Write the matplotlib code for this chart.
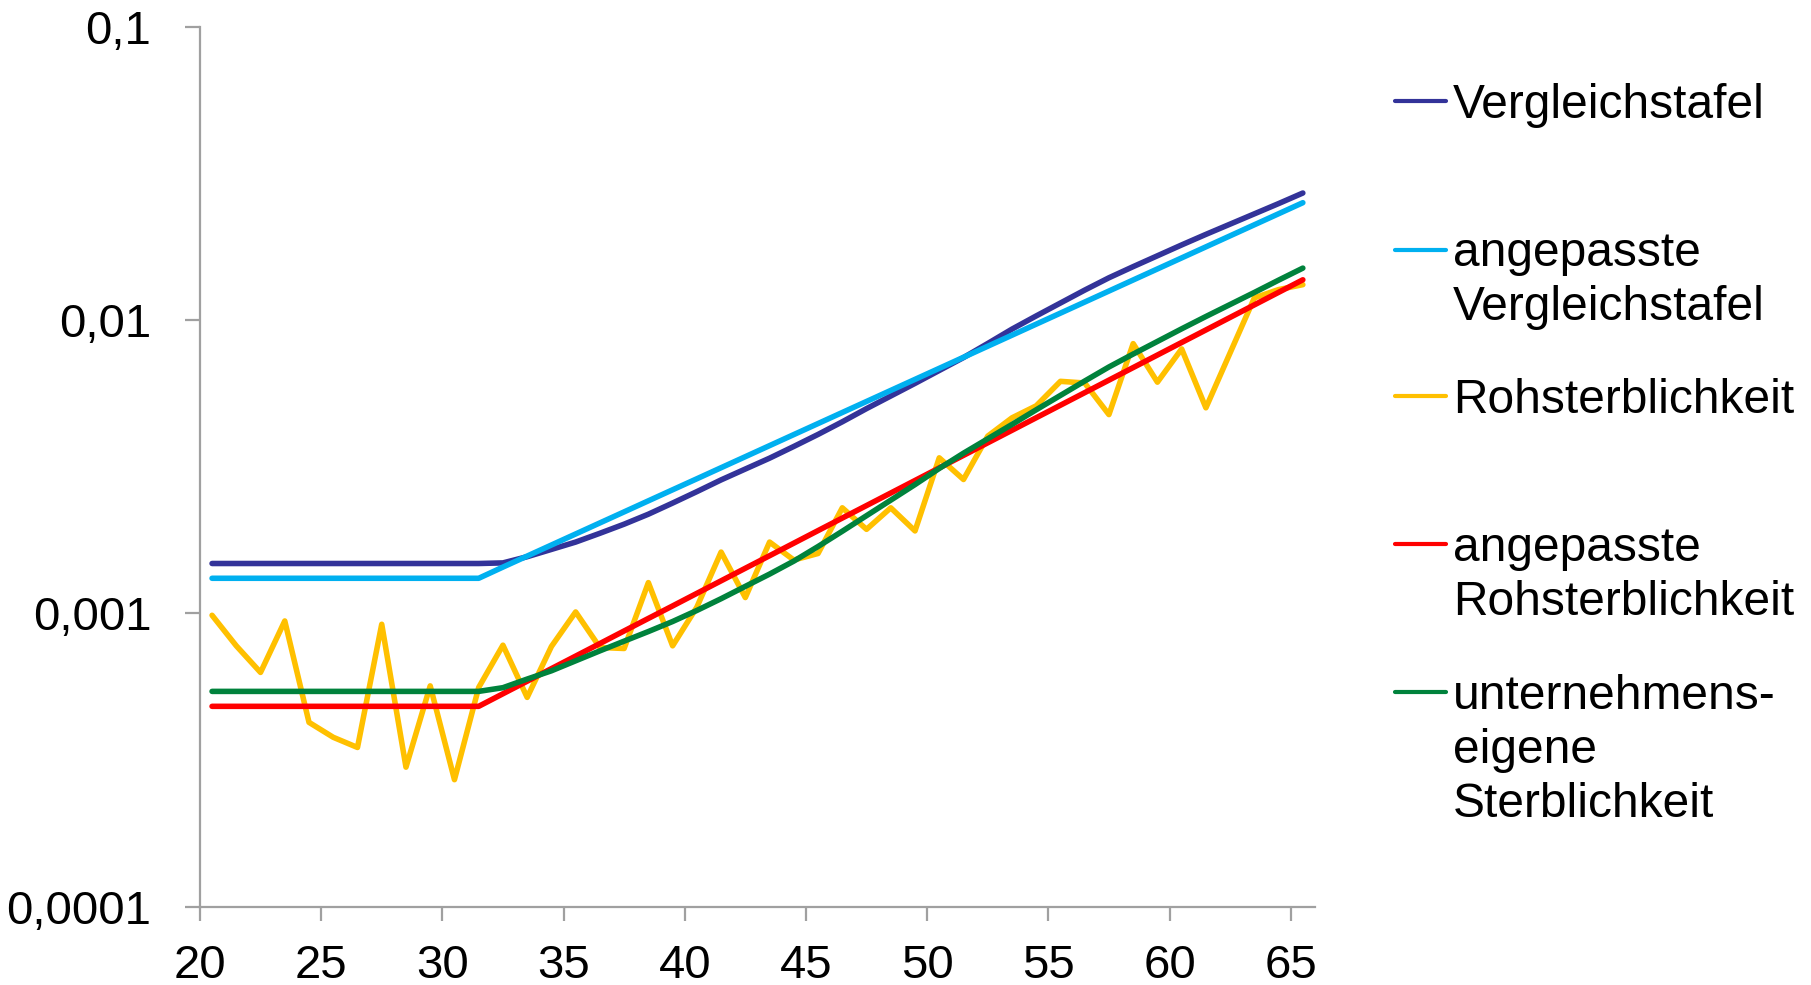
import numpy as np
import matplotlib
matplotlib.use('Agg')
import matplotlib.pyplot as plt
from matplotlib.lines import Line2D

plt.rcParams['font.family'] = ['Liberation Sans', 'DejaVu Sans']

# ages (mid-year) 20.5 .. 65.5
ages = [20.5, 21.5, 22.5, 23.5, 24.5, 25.5, 26.5, 27.5, 28.5, 29.5,
        30.5, 31.5, 32.5, 33.5, 34.5, 35.5, 36.5, 37.5, 38.5, 39.5,
        40.5, 41.5, 42.5, 43.5, 44.5, 45.5, 46.5, 47.5, 48.5, 49.5,
        50.5, 51.5, 52.5, 53.5, 54.5, 55.5, 56.5, 57.5, 58.5, 59.5,
        60.5, 61.5, 62.5, 63.5, 64.5, 65.5]

vergleichstafel = [0.001479, 0.001479, 0.001479, 0.001479, 0.001479, 0.001479,
                   0.001479, 0.001479, 0.001479, 0.001479, 0.001479, 0.001479,
                   0.001486, 0.001560, 0.001652, 0.001750, 0.001875, 0.002014,
                   0.002178, 0.002377, 0.002600, 0.002851, 0.003105, 0.003381,
                   0.003707, 0.004074, 0.004498, 0.004989, 0.005508, 0.006081,
                   0.006730, 0.007447, 0.008318, 0.009311, 0.010328, 0.011429,
                   0.012647, 0.013932, 0.015205, 0.016558, 0.018030, 0.019588,
                   0.021232, 0.023014, 0.024946, 0.027102]

angep_vergleichstafel = [0.001317, 0.001317, 0.001317, 0.001317, 0.001317, 0.001317,
                         0.001317, 0.001317, 0.001317, 0.001317, 0.001317, 0.001317,
                         0.001438, 0.001568, 0.001710, 0.001865, 0.002034, 0.002218,
                         0.002419, 0.002638, 0.002876, 0.003137, 0.003421, 0.003731,
                         0.004069, 0.004437, 0.004839, 0.005277, 0.005755, 0.006276,
                         0.006844, 0.007464, 0.008140, 0.008877, 0.009681, 0.010557,
                         0.011513, 0.012556, 0.013693, 0.014932, 0.016284, 0.017759,
                         0.019367, 0.021121, 0.023033, 0.025119]

rohsterblichkeit = [0.000985, 0.000775, 0.000629, 0.000942, 0.000425, 0.000378,
                    0.000349, 0.000918, 0.000299, 0.000566, 0.000271, 0.000559,
                    0.000779, 0.000517, 0.000771, 0.001011, 0.000765, 0.000759,
                    0.001273, 0.000775, 0.001050, 0.001618, 0.001132, 0.001750,
                    0.001520, 0.001600, 0.002290, 0.001934, 0.002290, 0.001910,
                    0.003390, 0.002860, 0.004020, 0.004640, 0.005100, 0.006180,
                    0.006100, 0.004760, 0.008310, 0.006140, 0.007970, 0.005020,
                    0.007730, 0.011900, 0.012700, 0.013200]

angep_rohsterblichkeit = [0.000482, 0.000482, 0.000482, 0.000482, 0.000482, 0.000482,
                          0.000482, 0.000482, 0.000482, 0.000482, 0.000482, 0.000482,
                          0.000532, 0.000587, 0.000648, 0.000715, 0.000789, 0.000871,
                          0.000961, 0.001060, 0.001170, 0.001291, 0.001425, 0.001572,
                          0.001735, 0.001915, 0.002113, 0.002331, 0.002572, 0.002838,
                          0.003132, 0.003456, 0.003814, 0.004208, 0.004644, 0.005124,
                          0.005654, 0.006239, 0.006885, 0.007597, 0.008383, 0.009250,
                          0.010207, 0.011263, 0.012428, 0.013714]

unternehmenseigen = [0.000542, 0.000542, 0.000542, 0.000542, 0.000542, 0.000542,
                     0.000542, 0.000542, 0.000542, 0.000542, 0.000542, 0.000542,
                     0.000558, 0.000597, 0.000637, 0.000689, 0.000745, 0.000804,
                     0.000867, 0.000938, 0.001023, 0.001122, 0.001236, 0.001361,
                     0.001507, 0.001690, 0.001905, 0.002153, 0.002432, 0.002748,
                     0.003119, 0.003516, 0.003936, 0.004406, 0.004943, 0.005534,
                     0.006194, 0.006918, 0.007656, 0.008453, 0.009333, 0.010280,
                     0.011298, 0.012417, 0.013677, 0.015031]

series = [
    (["Vergleichstafel"], vergleichstafel, "#333399"),
    (["angepasste", "Vergleichstafel"], angep_vergleichstafel, "#00B0F0"),
    (["Rohsterblichkeit"], rohsterblichkeit, "#FFC000"),
    (["angepasste", "Rohsterblichkeit"], angep_rohsterblichkeit, "#FF0000"),
    (["unternehmens-", "eigene", "Sterblichkeit"], unternehmenseigen, "#00823C"),
]

xticks = [20, 25, 30, 35, 40, 45, 50, 55, 60, 65]
yticks = [0.0001, 0.001, 0.01, 0.1]
ytick_labels = ["0,0001", "0,001", "0,01", "0,1"]

fig = plt.figure(figsize=(18.11, 9.85), dpi=100)
ax = fig.add_axes([0.1104, 0.0795, 0.6157, 0.8934])

for label, vals, col in series:
    ax.plot(ages, vals, color=col, lw=4, solid_capstyle='round', solid_joinstyle='round')

ax.set_yscale('log')
ax.set_ylim(0.0001, 0.1)
ax.set_xlim(20, 66)
ax.set_xticks(xticks)
ax.set_xticklabels([str(t) for t in xticks])
ax.set_yticks(yticks)
ax.set_yticklabels(ytick_labels)
ax.minorticks_off()

for s in ['top', 'right']:
    ax.spines[s].set_visible(False)
for s in ['left', 'bottom']:
    ax.spines[s].set_color('#A0A0A0')
    ax.spines[s].set_linewidth(1.6)
ax.tick_params(axis='both', colors='#A0A0A0', width=1.6, labelcolor='black', labelsize=34)
ax.tick_params(axis='y', length=11, pad=24)
ax.tick_params(axis='x', length=10, pad=17)

# legend drawn by hand, Excel style (handle next to first line of label)
handle_y = [100.5, 249.5, 396, 544, 692]
W, H = 1811.0, 985.0
for (lines, vals, col), hy in zip(series, handle_y):
    yf = 1 - hy / H
    fig.add_artist(Line2D([1395 / W, 1446 / W], [yf, yf], color=col, lw=3,
                          solid_capstyle='round', transform=fig.transFigure))
    for i, txt in enumerate(lines):
        fig.text(1453 / W, 1 - (hy + 17 + i * 54) / H, txt, fontsize=34.5,
                 va='baseline', ha='left')

plt.savefig("out.png", dpi=100)
plt.close()
